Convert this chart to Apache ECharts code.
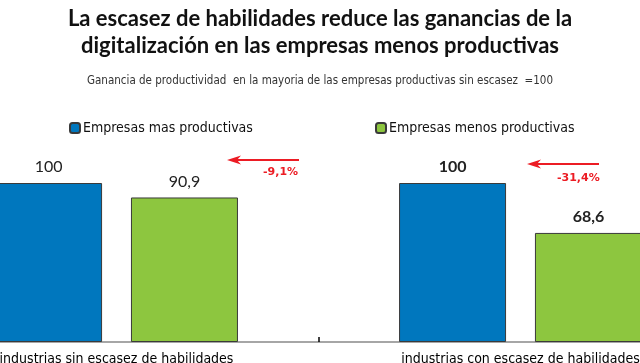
<!DOCTYPE html>
<html>
<head>
<meta charset="utf-8">
<script src="https://cdn.jsdelivr.net/npm/echarts@6/dist/echarts.min.js"></script>
<style>html,body{margin:0;padding:0;background:#fff}#c{width:640px;height:363px}</style>
</head>
<body>
<div id="c"></div>
<script>
const categories = ['industrias sin escasez de habilidades', 'industrias con escasez de habilidades'];
const seriesNames = ['Empresas mas productivas', 'Empresas menos productivas'];
const masProductivas = [100, 100];
const menosProductivas = [90.9, 68.6];
const yTicks = [0, 100];

const fmt = v => v.toFixed(1).replace('.', ',').replace(',0', '');
const pct = i => ((menosProductivas[i] - masProductivas[i]) / masProductivas[i] * 100).toFixed(1).replace('.', ',') + '%';

const narrow = "'Liberation Sans Narrow', 'DejaVu Sans Condensed', 'Arial Narrow', sans-serif";
const chart = echarts.init(document.getElementById('c'), null, {renderer: 'canvas'});

// category index positions on a value axis (the chart is cropped at both sides)
function mkData(arr) {
  return arr.map((v, i) => ({value: [i, v], label: {fontWeight: i === 1 ? 'bold' : 'normal'}}));
}

const red = '#ec1c24';
function arrow(x1, x2, y, text, tx, ty) {
  return [
    {type: 'line', shape: {x1: x1, y1: y, x2: x2 + 8, y2: y}, style: {stroke: red, lineWidth: 2}},
    {type: 'polygon', shape: {points: [[x2, y], [x2 + 14, y - 4.5], [x2 + 10, y], [x2 + 14, y + 4.5]]}, style: {fill: red}},
    {type: 'text', left: tx, top: ty, style: {text: text, fill: red, font: "bold 11px 'DejaVu Sans', sans-serif", textAlign: 'left'}}
  ];
}

chart.setOption({
  animation: false,
  title: [{
    text: 'La escasez de habilidades reduce las ganancias de la\ndigitalización en las empresas menos productivas',
    left: 'center', top: 0,
    textStyle: {fontFamily: 'Lato', fontWeight: 'bold', fontSize: 22, lineHeight: 27, color: '#111'}
  }, {
    text: 'Ganancia de productividad  en la mayoria de las empresas productivas sin escasez  =100',
    left: 'center', top: 70,
    textStyle: {fontFamily: narrow, fontWeight: 'normal', fontSize: 11.5, color: '#333'}
  }],
  legend: [{
    data: [seriesNames[0]], left: 64, top: 116, itemWidth: 10, itemHeight: 10, itemGap: 0,
    textStyle: {fontFamily: narrow, fontSize: 14, color: '#111', padding: [0, 0, 0, -2]}
  }, {
    data: [seriesNames[1]], left: 370, top: 116, itemWidth: 10, itemHeight: 10, itemGap: 0,
    textStyle: {fontFamily: narrow, fontSize: 14, color: '#111', padding: [0, 0, 0, -2]}
  }],
  grid: {left: 0, right: 0, top: 183, bottom: 21, containLabel: false, outerBoundsMode: 'none'},
  xAxis: {
    type: 'value', min: -0.2884, max: 1.2958,
    splitLine: {show: false},
    axisLine: {show: true, onZero: false, lineStyle: {color: '#a6a6a6', width: 2}},
    axisTick: {show: true, inside: true, length: 5, customValues: [0.5], lineStyle: {color: '#000', width: 1.5}},
    axisLabel: {show: true, margin: 10, customValues: [0, 1], formatter: v => categories[Math.round(v)] || '', fontFamily: narrow, fontSize: 14, color: '#000'}
  },
  yAxis: {type: 'value', min: yTicks[0], max: yTicks[1], show: false, splitLine: {show: false}},
  series: [{
    name: seriesNames[0], type: 'bar', data: mkData(masProductivas),
    barWidth: 107, barGap: '27%',
    itemStyle: {color: '#0077be', borderColor: '#3a3a3a', borderWidth: 1},
    label: {show: true, position: 'top', distance: 8, formatter: p => fmt(p.value[1]), fontFamily: 'Lato', fontSize: 16, color: '#222'}
  }, {
    name: seriesNames[1], type: 'bar', data: mkData(menosProductivas),
    barWidth: 107, barGap: '27%',
    itemStyle: {color: '#8dc63f', borderColor: '#3a3a3a', borderWidth: 1},
    label: {show: true, position: 'top', distance: 8, formatter: p => fmt(p.value[1]), fontFamily: 'Lato', fontSize: 16, color: '#222'}
  }],
  graphic: [].concat(arrow(299, 227, 160, pct(0), 263, 167), arrow(599, 527, 164, pct(1), 557, 173))
});
</script>
</body>
</html>
